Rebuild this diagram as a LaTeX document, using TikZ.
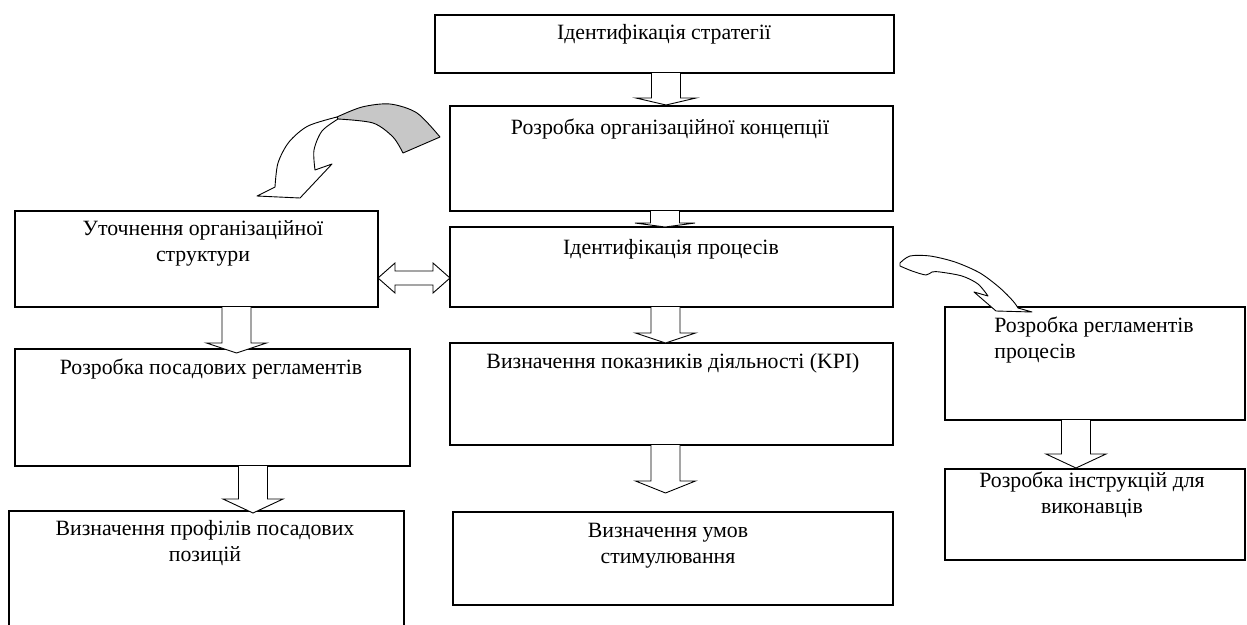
\documentclass[tikz,border=0pt]{standalone}
\usepackage{fontspec}
\setmainfont{Liberation Serif}
\usetikzlibrary{calc}

% rectangle given by its left, top, right and bottom edges (in px, y downwards)
\newcommand{\mkbox}[5]{%
  \node[box, anchor=north west, minimum width={#4-#2}, minimum height={#5-#3}] (#1) at (#2,#3) {};}

% hollow block arrow pointing down from one box to the next:
% #1 source, #2 target, #3 centre x, #4 head length, #5 gap of the tip above the target
\newcommand{\blockdown}[5]{%
  \draw[blk] let \p1=(#1.south), \p2=(#2.north) in
    (#3pt-14.5pt,\y1) -- (#3pt-14.5pt,\y2+#5pt+#4pt) -- (#3pt-30pt,\y2+#5pt+#4pt)
    -- (#3pt,\y2+#5pt)
    -- (#3pt+30pt,\y2+#5pt+#4pt) -- (#3pt+14.5pt,\y2+#5pt+#4pt) -- (#3pt+14.5pt,\y1);}

\begin{document}
\begin{tikzpicture}[x=1pt,y=-1pt,
  box/.style={draw=black, line width=1.2pt, fill=white, inner sep=0pt, outer sep=0pt},
  lbl/.style={font=\fontsize{21.8}{26}\selectfont, align=center, inner sep=0pt, anchor=base},
  blk/.style={draw=black, line width=0.9pt, fill=white, line join=miter},
  twist/.style={draw=black, line width=0.9pt, line join=round}]
\useasboundingbox (0,0) rectangle (1247,624);

% boxes
\mkbox{b1}{435}{15}{894}{73}
\mkbox{b2}{450}{106}{893}{211}
\mkbox{b3}{450}{227}{893}{307}
\mkbox{b4}{15}{211}{378}{307}
\mkbox{b5}{15}{349}{410}{466}
\mkbox{b6}{9}{511}{404}{640}
\mkbox{b7}{450}{343}{893}{445}
\mkbox{b8}{453}{512}{893}{605}
\mkbox{b9}{945}{307}{1245}{420}
\mkbox{b10}{945}{469}{1245}{560}

% labels (multi-line labels sit on the baseline of their last line)
\node[lbl] (t1) at (664,39) {Ідентифікація стратегії};
\node[lbl] (t2) at (670,134) {Розробка організаційної концепції};
\node[lbl] (t3) at (671,254) {Ідентифікація процесів};
\node[lbl] (t4) at (203,261) {Уточнення організаційної\\структури};
\node[lbl] (t5) at (211,374) {Розробка посадових регламентів};
\node[lbl] (t6) at (205,561) {Визначення профілів посадових\\позицій};
\node[lbl] (t7) at (673,368) {Визначення показників діяльності (KPI)};
\node[lbl] (t8) at (668,563) {Визначення умов\\стимулювання};
\node[lbl, align=left] (t9) at (1094,358) {Розробка регламентів\\процесів};
\node[lbl] (t10) at (1092,513) {Розробка інструкцій для\\виконавців};

% straight block arrows
\blockdown{b1}{b2}{666}{7}{1}
\blockdown{b2}{b3}{665}{4}{0}
\blockdown{b3}{b7}{665.5}{10}{0}
\blockdown{b7}{b8}{665.5}{12}{19}
\blockdown{b4}{b5}{236.5}{10}{-4}
\blockdown{b5}{b6}{253}{14}{-2}
\blockdown{b9}{b10}{1076}{14}{1}

% two-headed block arrow between the structure and the processes
\coordinate (dl) at (b4.east |- 0,278);
\coordinate (dr) at (b3.west |- 0,278);
\draw[blk] let \p1=(dl), \p2=(dr) in
  (\x1,\y1) -- (\x1+17pt,\y1+15pt) -- (\x1+17pt,\y1+7pt) -- (\x2-17pt,\y1+7pt)
  -- (\x2-17pt,\y1+15pt) -- (\x2,\y1) -- (\x2-17pt,\y1-15pt) -- (\x2-17pt,\y1-7pt)
  -- (\x1+17pt,\y1-7pt) -- (\x1+17pt,\y1-15pt) -- cycle;

% twisted ribbon arrow from the concept to the structure
\filldraw[twist, fill=white]
  plot[smooth] coordinates {(337,117) (308,126) (289,142) (278,163) (275,187)}
  -- (257,196) -- (300,198) -- (332,164) -- (315,170)
  -- plot[smooth] coordinates {(315,170) (314,150) (322,131) (338,119)} -- cycle;
\filldraw[twist, fill=black!22]
  plot[smooth] coordinates {(337,117) (362,107) (390,104) (417,113) (440,137)}
  -- (403,153)
  -- plot[smooth] coordinates {(403,153) (393,137) (373,123) (338,119)} -- cycle;

% ribbon arrow from the processes to the process regulations
\filldraw[twist, fill=white]
  plot[smooth] coordinates {(900,263) (910,256) (930,256) (955,262) (980,273) (1000,288) (1013,301) (1018,308)}
  -- (1032,312) -- (996,311) -- (974,292) -- (988,296)
  -- plot[smooth] coordinates {(988,296) (978,284) (962,276) (940,272) (932,272) (926,275) (912,271) (900,266)} -- cycle;
\end{tikzpicture}
\end{document}
